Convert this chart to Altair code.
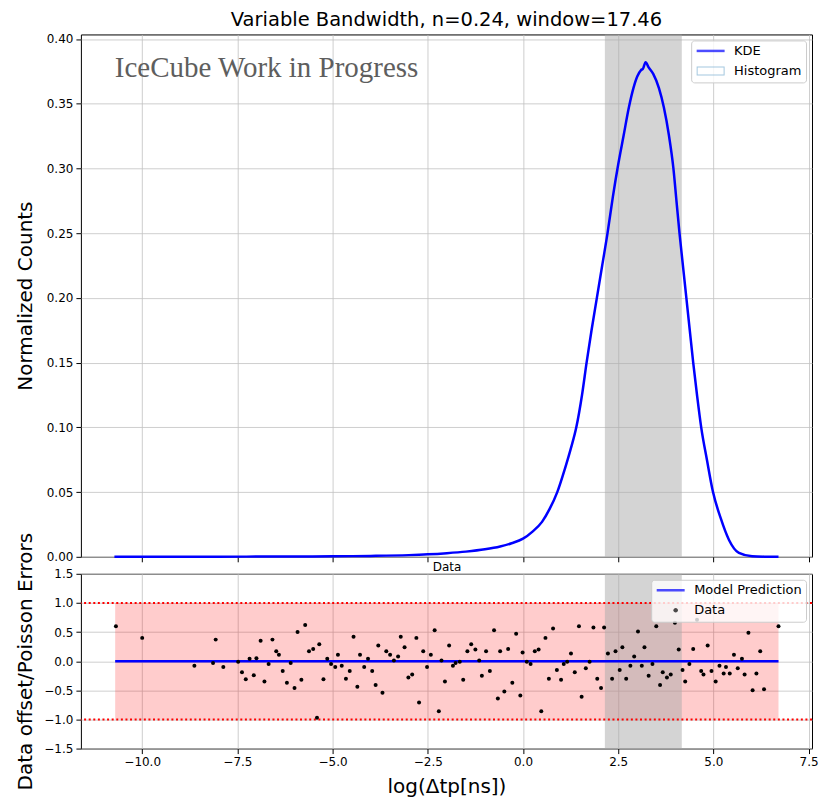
import altair as alt
import pandas as pd

# ---------------- data ----------------
kde_x = [-10.73, -9.5, -8.0, -6.5, -5.0, -4.0, -3.0, -2.5, -2.0, -1.5, -1.0, -0.6, -0.3,
         0.0, 0.25, 0.5, 0.7, 0.9, 1.1, 1.25, 1.4, 1.55, 1.67, 1.8, 1.94, 2.08, 2.22,
         2.36, 2.5, 2.64, 2.78, 2.9, 3.0, 3.1, 3.15, 3.22, 3.3, 3.42, 3.57, 3.7, 3.83,
         3.95, 4.03, 4.11, 4.2, 4.29, 4.38, 4.47, 4.57, 4.68, 4.83, 4.99, 5.19, 5.41,
         5.67, 6.02, 6.4, 6.71]
kde_y = [0.0, 0.0, 0.0001, 0.0002, 0.0004, 0.0007, 0.0013, 0.0019, 0.0028, 0.0040,
         0.0058, 0.0080, 0.0105, 0.0140, 0.0195, 0.027, 0.037, 0.050, 0.068, 0.083,
         0.100, 0.125, 0.150, 0.175, 0.200, 0.225, 0.250, 0.278, 0.303, 0.325, 0.347,
         0.362, 0.371, 0.376, 0.377, 0.382, 0.378, 0.373, 0.362, 0.347, 0.326, 0.300,
         0.275, 0.250, 0.225, 0.200, 0.175, 0.150, 0.125, 0.100, 0.075, 0.050, 0.030,
         0.013, 0.003, 0.0004, 0.0001, 0.0]

pts_x = [-10.69, -10.00, -8.63, -8.14, -8.07, -7.87, -7.48, -7.38, -7.28, -7.18, -7.07,
         -7.00, -6.89, -6.79, -6.68, -6.58, -6.48, -6.41, -6.31, -6.20, -6.10, -6.00,
         -5.92, -5.82, -5.72, -5.62, -5.51, -5.41, -5.35, -5.24, -5.14, -5.04, -4.93,
         -4.86, -4.76, -4.65, -4.55, -4.45, -4.35, -4.28, -4.17, -4.07, -3.96, -3.87,
         -3.80, -3.69, -3.59, -3.49, -3.39, -3.28, -3.21, -3.11, -3.01, -2.91, -2.80,
         -2.73, -2.62, -2.52, -2.42, -2.32, -2.21, -2.14, -2.05, -1.94, -1.84, -1.77,
         -1.66, -1.57, -1.46, -1.36, -1.25, -1.15, -1.08, -0.97, -0.87, -0.76, -0.66,
         -0.60, -0.49, -0.39, -0.28, -0.18, -0.07, -0.01, 0.10, 0.20, 0.31, 0.41, 0.48,
         0.59, 0.68, 0.79, 0.89, 1.00, 1.07, 1.16, 1.26, 1.36, 1.47, 1.54, 1.65, 1.75,
         1.85, 1.95, 2.05, 2.13, 2.23, 2.34, 2.43, 2.54, 2.61, 2.71, 2.82, 2.92, 3.02,
         3.12, 3.19, 3.30, 3.40, 3.50, 3.60, 3.67, 3.78, 3.88, 3.99, 4.09, 4.19, 4.26,
         4.37, 4.47, 4.57, 4.68, 4.74, 4.85, 4.95, 5.06, 5.16, 5.27, 5.33, 5.43, 5.54,
         5.64, 5.75, 5.82, 5.92, 6.03, 6.13, 6.23, 6.33, 6.71]
pts_y = [0.60, 0.40, -0.08, -0.03, 0.37, -0.10, -0.01, -0.19, -0.31, 0.04, -0.24,
         0.05, 0.35, -0.35, -0.05, 0.37, 0.17, 0.11, -0.17, -0.37, -0.03, -0.46,
         0.50, -0.32, 0.62, 0.17, 0.21, -0.97, 0.29, -0.31, 0.04, -0.05, -0.10,
         0.11, -0.08, -0.30, -0.17, 0.42, -0.44, 0.11, -0.10, 0.04, -0.17, -0.41,
         0.27, -0.54, 0.17, 0.11, 0.01, 0.08, 0.42, 0.24, -0.28, -0.23, 0.40,
         -0.71, 0.17, -0.10, 0.11, 0.53, -0.86, 0.01, -0.35, 0.27, -0.08, -0.03,
         -0.01, -0.32, 0.17, 0.29, 0.20, 0.01, -0.25, 0.17, -0.17, 0.53, -0.64,
         0.17, -0.52, 0.21, -0.37, 0.47, -0.59, 0.15, -0.01, -0.05, 0.17, 0.20, -0.86,
         0.40, -0.30, 0.56, -0.15, -0.32, -0.05, -0.01, 0.13, -0.19, 0.60, -0.61, -0.12, -0.01,
         0.58, -0.30, -0.46, 0.58, 0.13, -0.30, 0.17, -0.15, 0.24, -0.30, -0.08, 0.08, 0.51,
         -0.08, 0.24, -0.25, -0.05, 0.60, -0.41, -0.19, -0.28, -0.23, 0.66, 0.20, -0.15, -0.35,
         -0.05, 0.21, 0.71, -0.17, -0.23, 0.27, -0.17, -0.35, -0.08, -0.21, -0.10, -0.21, 0.11,
         -0.12, 0.04, -0.23, 0.49, -0.50, -0.21, 0.17, -0.48, 0.60]

band_x0 = [2.15]
band_x1 = [4.17]
model_x = [-10.71, 6.71]
model_y = [0.0, 0.0]
err_lo = [-1.0]
err_hi = [1.0]
err_levels = [-1.0, 1.0]
top_labels = ["KDE", "Histogram"]
bot_labels = ["Model Prediction", "Data"]
wm_x = [-10.72]
wm_y = [0.3703]
wm_text = ["IceCube Work in Progress"]

x_ticks = [-10.0, -7.5, -5.0, -2.5, 0.0, 2.5, 5.0, 7.5]
top_y_ticks = [0.0, 0.05, 0.10, 0.15, 0.20, 0.25, 0.30, 0.35, 0.40]
bot_y_ticks = [-1.5, -1.0, -0.5, 0.0, 0.5, 1.0, 1.5]

# ---------------- tables ----------------
kde_df = pd.DataFrame({"x": kde_x, "y": kde_y})
pts_df = pd.DataFrame({"x": pts_x, "y": pts_y})
band_df = pd.DataFrame({"x0": band_x0, "x1": band_x1})
model_df = pd.DataFrame({"x": model_x, "y": model_y})
err_df = pd.DataFrame({"x0": [model_x[0]], "x1": [model_x[1]], "y0": err_lo, "y1": err_hi})
lev_df = pd.DataFrame({"y": err_levels})
wm_df = pd.DataFrame({"x": wm_x, "y": wm_y, "t": wm_text})
top_leg_df = pd.DataFrame({"series": top_labels})
bot_leg_df = pd.DataFrame({"label": bot_labels})

FONT = "DejaVu Sans"
xscale = alt.Scale(domain=[-11.61, 7.59], nice=False, zero=False)
top_yscale = alt.Scale(domain=[0, 0.4035], nice=False, zero=False)
bot_yscale = alt.Scale(domain=[-1.5, 1.5], nice=False, zero=False)

# the small "Data" heading of the lower panel sits just under the upper panel's ticks
top_xaxis = alt.Axis(values=x_ticks, labels=False, title="Data", titleFontSize=12,
                     titleBaseline="alphabetic", titleY=14, titleAlign="center")
bot_xaxis = alt.Axis(values=x_ticks, format=".1f", title="log(Δtp[ns])", titlePadding=9)
top_yaxis = alt.Axis(values=top_y_ticks, format=".2f", title="Normalized Counts",
                     titleX=-49, titleAngle=270, titleBaseline="alphabetic", titleAlign="center")
bot_yaxis = alt.Axis(values=bot_y_ticks, format=".1f", title="Data offset/Poisson Errors",
                     titleX=-49, titleAngle=270, titleBaseline="alphabetic", titleAlign="center")

# symbol paths for legends (unit = sqrt(size)/2 px)
LINE_PATH = "M-1,-0.25L4.6,-0.25L4.6,0.25L-1,0.25Z"
RECT_PATH = ("M-1,-0.9L4.6,-0.9L4.6,0.9L-1,0.9Z"
             "M-0.8,-0.7L-0.8,0.7L4.4,0.7L4.4,-0.7Z")
DOT_PATH = "M2.35,0A0.45,0.45 0 1,0 3.25,0A0.45,0.45 0 1,0 2.35,0Z"


def legend_def():
    return alt.Legend(title=None, orient="top-right", offset=6, padding=4,
                      fillColor="rgba(255,255,255,0.8)", strokeColor="#cccccc",
                      cornerRadius=3, labelFont=FONT, labelFontSize=13, labelColor="black",
                      symbolSize=100, labelOffset=26, rowPadding=6, symbolStrokeWidth=0)


# ---------------- top panel ----------------
top_band = alt.Chart(band_df).mark_rect(color="#a9a9a9", opacity=0.5).encode(
    x=alt.X("x0:Q", scale=xscale, axis=top_xaxis), x2="x1:Q")

top_kde = alt.Chart(kde_df).mark_line(color="#0000ff", strokeWidth=2.5,
                                      interpolate="monotone").encode(
    x=alt.X("x:Q", scale=xscale, axis=top_xaxis),
    y=alt.Y("y:Q", scale=top_yscale, axis=top_yaxis))

top_wm = alt.Chart(wm_df).mark_text(align="left", baseline="alphabetic",
                                    font="Liberation Serif", fontSize=29,
                                    color="#5e5e5e").encode(
    x=alt.X("x:Q", scale=xscale, axis=top_xaxis),
    y=alt.Y("y:Q", scale=top_yscale, axis=top_yaxis), text="t:N")

top_leg = alt.Chart(top_leg_df).mark_point(filled=True, strokeWidth=0).encode(
    color=alt.Color("series:N", scale=alt.Scale(domain=top_labels, range=["#0000ff", "#7fb0d2"]),
                    legend=legend_def()),
    shape=alt.Shape("series:N", scale=alt.Scale(domain=top_labels, range=[LINE_PATH, RECT_PATH]),
                    legend=legend_def()),
).transform_filter("false")

top = alt.layer(top_band, top_kde, top_wm, top_leg).properties(
    width=732, height=523,
    title=alt.Title("Variable Bandwidth, n=0.24, window=17.46", font=FONT, fontSize=19.5,
                    fontWeight="normal", color="black", offset=-13, baseline="alphabetic",
                    frame="group"))

# ---------------- bottom panel ----------------
bot_fill = alt.Chart(err_df).mark_rect(color="#ff0000", opacity=0.2).encode(
    x=alt.X("x0:Q", scale=xscale, axis=bot_xaxis), x2="x1:Q",
    y=alt.Y("y0:Q", scale=bot_yscale, axis=bot_yaxis), y2="y1:Q")

bot_band = alt.Chart(band_df).mark_rect(color="#a9a9a9", opacity=0.5).encode(
    x=alt.X("x0:Q", scale=xscale, axis=bot_xaxis), x2="x1:Q")

bot_lev = alt.Chart(lev_df).mark_rule(color="#ff0000", strokeWidth=2, strokeDash=[2, 2.6]).encode(
    y=alt.Y("y:Q", scale=bot_yscale, axis=bot_yaxis))

bot_model = alt.Chart(model_df).mark_line(color="#0000ff", strokeWidth=2.5).encode(
    x=alt.X("x:Q", scale=xscale, axis=bot_xaxis),
    y=alt.Y("y:Q", scale=bot_yscale, axis=bot_yaxis))

bot_pts = alt.Chart(pts_df).mark_circle(color="black", size=16, opacity=1).encode(
    x=alt.X("x:Q", scale=xscale, axis=bot_xaxis),
    y=alt.Y("y:Q", scale=bot_yscale, axis=bot_yaxis))

bot_leg = alt.Chart(bot_leg_df).mark_point(filled=True, strokeWidth=0).encode(
    color=alt.Color("label:N", scale=alt.Scale(domain=bot_labels, range=["#0000ff", "#000000"]),
                    legend=legend_def()),
    shape=alt.Shape("label:N", scale=alt.Scale(domain=bot_labels, range=[LINE_PATH, DOT_PATH]),
                    legend=legend_def()),
).transform_filter("false")

bot = alt.layer(bot_fill, bot_band, bot_lev, bot_model, bot_pts, bot_leg).properties(
    width=732, height=175)

chart = alt.vconcat(top, bot, spacing=17, bounds="flush").resolve_scale(
    color="independent", shape="independent"
).resolve_legend(color="independent", shape="independent").properties(
    padding={"left": 15, "top": 9, "right": 2, "bottom": 2}
).configure_view(stroke="black", strokeWidth=1).configure_axis(
    domain=False, grid=True, gridColor="#c2c2c2", gridWidth=0.8,
    tickColor="black", tickSize=5, tickWidth=1, labelPadding=3,
    labelFont=FONT, labelFontSize=12, labelColor="black",
    titleFont=FONT, titleFontSize=20, titleFontWeight="normal", titleColor="black")

chart.save("out.html", embed_options={"renderer": "svg", "actions": False})
